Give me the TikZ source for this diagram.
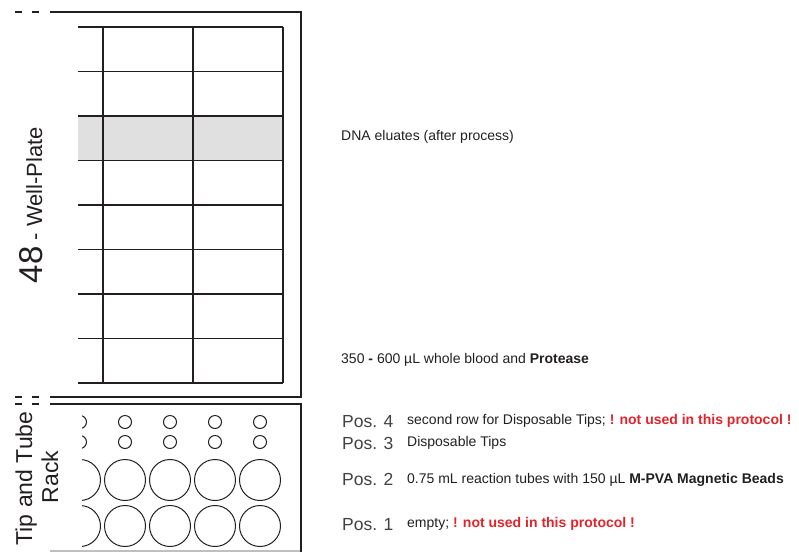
\documentclass[tikz,border=0pt]{standalone}
\usepackage{fontspec}
\setmainfont{Liberation Sans}
\definecolor{txt}{HTML}{231F20}
\definecolor{alert}{HTML}{E3232A}
\definecolor{rowgray}{HTML}{E0E0E0}
\begin{document}
\begin{tikzpicture}[x=1pt,y=-1pt,
  frame/.style={line width=2.8pt, draw=txt},
  stub/.style={line width=2pt, draw=txt},
  gridline/.style={line width=1.6pt, draw=txt},
  well/.style={line width=1pt, draw=txt},
  poslabel/.style={inner sep=0pt, anchor=base west, font=\fontsize{17.5}{20}\selectfont, text=txt!85},
  desc/.style={inner sep=0pt, anchor=base west, font=\fontsize{14}{16}\selectfont, text=txt},
  sidelabel/.style={inner sep=0pt, anchor=base, rotate=90, text=txt},
]
\useasboundingbox (0,0) rectangle (799,552);

% ---------- 48 well plate ----------
\fill[rowgray] (78,116) rectangle (283,160.5);
\foreach \i in {0,...,8}
  \draw[gridline] (78,{27+44.5*\i}) -- (283,{27+44.5*\i});
\foreach \x in {103,193,283}
  \draw[gridline] (\x,27) -- (\x,383);

% frame of the plate
\draw[frame] (50,12) -- (301,12) -- (301,397) -- (50,397);
\foreach \y in {12,397,404}{
  \draw[stub] (15,\y) -- (22,\y);
  \draw[stub] (32,\y) -- (39,\y);
}
% frame of the rack
\draw[frame] (50,404) -- (301,404) -- (301,552);
\draw[line width=1.5pt, draw=gray!50] (50,551) -- (300,551);

% ---------- rack wells ----------
\begin{scope}
  \clip (82,406) rectangle (299,552);
  \foreach \x in {80,125,170,215,260}{
    \draw[well] (\x,422) circle (6.5);
    \draw[well] (\x,442) circle (6.5);
    \draw[well] (\x,480) circle (20.5);
    \draw[well] (\x,526) circle (20.5);
  }
\end{scope}

% ---------- side labels ----------
\node[sidelabel] (plate) at (42,205)
  {{\fontsize{33}{33}\selectfont 48}{\fontsize{22}{22}\selectfont\ - Well-Plate}};
\node[sidelabel, font=\fontsize{23}{23}\selectfont] (rack1) at (32,478.5) {Tip and Tube};
\node[sidelabel, font=\fontsize{23}{23}\selectfont] (rack2) at (58,477) {Rack};

% ---------- descriptions ----------
\node[desc] (eluate) at (341,140) {DNA eluates (after process)};
\node[desc] (blood) at (341,363) {350 \textbf{-} 600 µL whole blood and \textbf{Protease}};

\node[poslabel] (p4) at (342,427) {Pos. 4};
\node[poslabel] (p3) at (342,449) {Pos. 3};
\node[poslabel] (p2) at (342,485) {Pos. 2};
\node[poslabel] (p1) at (342,530) {Pos. 1};

\node[desc] (d4) at (407,424) {second row for Disposable Tips; {\color{alert}\bfseries ! not used in this protocol !}};
\node[desc] (d3) at (407,446) {Disposable Tips};
\node[desc] (d2) at (407,483) {0.75 mL reaction tubes with 150 µL \textbf{M-PVA Magnetic Beads}};
\node[desc] (d1) at (407,527) {empty; {\color{alert}\bfseries ! not used in this protocol !}};
\end{tikzpicture}
\end{document}
